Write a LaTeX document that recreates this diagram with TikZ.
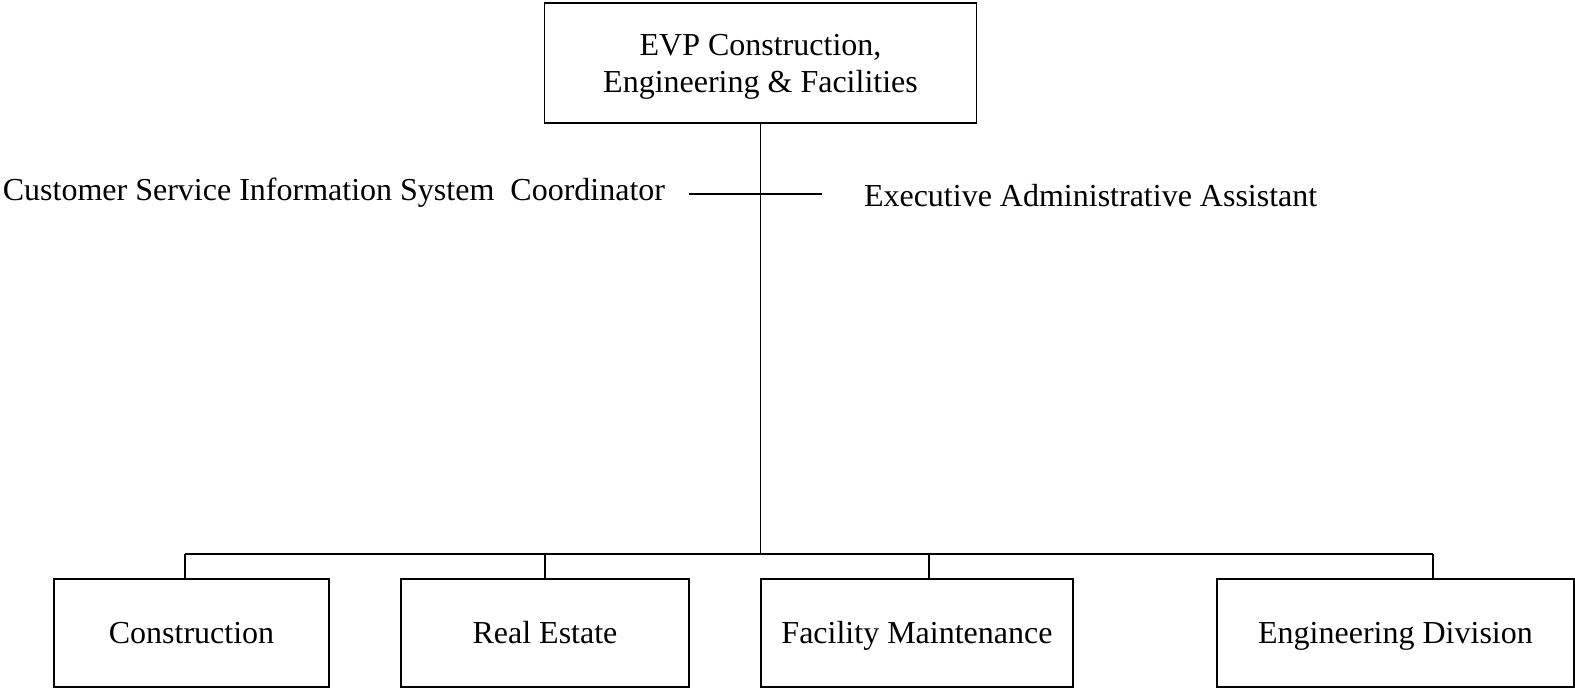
\documentclass[tikz,border=0pt]{standalone}
\usepackage{fontspec}
\setmainfont{Liberation Serif}
\usepackage{tikz}
\tikzset{unitbox/.style={draw, line width=0.6pt, inner sep=0pt, outer sep=0pt, align=center, font=\fontsize{12.8}{15}\selectfont}}
\tikzset{deptbox/.style={unitbox, minimum height=43.2pt, text height=11.4pt, text depth=3pt}}
\tikzset{plain/.style={inner sep=0pt, outer sep=0pt, font=\fontsize{12.8}{15.2}\selectfont}}

\begin{document}
\begin{tikzpicture}[x=0.4pt,y=-0.4pt,line width=0.6pt]
			\useasboundingbox (0,0) rectangle (1575,689);
			\node[unitbox, minimum width=172.8pt, minimum height=48pt, text height=26.8pt, text depth=3pt] (evp) at (760.5,63) {EVP Construction,\\Engineering \& Facilities};
			\node[plain, anchor=east] (csis) at (665,193) {Customer Service Information System\ \ Coordinator};
			\node[plain, anchor=west] (eaa) at (864,196) {Executive Administrative Assistant};
			\coordinate (asstL) at (689,194);
			\coordinate (asstR) at (822,194);
			\draw (asstL) -- (asstR);
			\coordinate (busL) at (185,554);
			\coordinate (busR) at (1433,554);
			\coordinate (d2) at (545,554);
			\coordinate (d3) at (929,554);
			\node[deptbox, minimum width=110pt] (con) at (191.5,633) {Construction};
			\node[deptbox, minimum width=115.2pt] (re) at (545,633) {Real Estate};
			\node[deptbox, minimum width=124.8pt] (fm) at (917,633) {Facility Maintenance};
			\node[deptbox, minimum width=142.8pt] (eng) at (1395.5,633) {Engineering Division};
			\draw (evp.south) -- (evp.south |- busL);
			\draw (busL) -- (busR);
			\draw (busL) -- (busL |- con.north);
			\draw (d2) -- (d2 |- re.north);
			\draw (d3) -- (d3 |- fm.north);
			\draw (busR) -- (busR |- eng.north);
		\end{tikzpicture}
\end{document}
